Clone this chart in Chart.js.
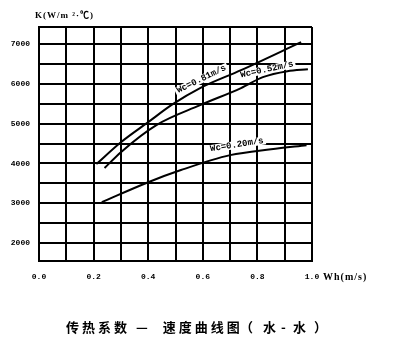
<!DOCTYPE html>
<html lang="zh-cn">
<head>
    <meta charset="UTF-8">
    <title>传热系数 — 速度曲线图</title>
    <script src="https://cdn.jsdelivr.net/npm/chart.js"></script>
    <style>
        body { margin: 0; background: #fff; }
    </style>
</head>
<body>
    <div style="width: 400px; height: 351px;">
        <canvas id="grafico" width="400" height="351"></canvas>
    </div>

    <script>
        // valores (Wh em m/s, K em W/m2.C)
        const wh081 = [0.21, 0.30, 0.40, 0.49, 0.59, 0.74, 0.96]
        const k081  = [3985, 4535, 5040, 5490, 5895, 6345, 7050]

        const wh052 = [0.24, 0.30, 0.43, 0.59, 0.74, 0.82, 0.91, 0.985]
        const k052  = [3885, 4285, 4965, 5465, 5895, 6170, 6320, 6370]

        const wh020 = [0.23, 0.40, 0.52, 0.70, 0.85, 0.98]
        const k020  = [3030, 3530, 3835, 4210, 4360, 4460]

        const series = ["Wc=0.81m/s", "Wc=0.52m/s", "Wc=0.20m/s"]
        const xTicks = [0.0, 0.2, 0.4, 0.6, 0.8, 1.0]
        const yTicks = [2000, 3000, 4000, 5000, 6000, 7000]
        // linhas de grade horizontais (a cada 500) e limites do eixo
        const yGrade = [1550, 2000, 2500, 3000, 3500, 4000, 4500, 5000, 5500, 6000, 6500, 7000, 7430]

        const pares = (xs, ys) => xs.map((x, i) => ({ x: x, y: ys[i] }))

        // rotulos das curvas (posicao em valores do grafico, angulo em graus)
        const rotulos = [
          { texto: series[0], x: 0.595, y: 6120, ang: -26 },
          { texto: series[1], x: 0.835, y: 6360, ang: -12 },
          { texto: series[2], x: 0.725, y: 4470, ang: -9 }
        ]

        // titulo de baixo, em pedacos para acertar o espacamento
        const titulo = [
          ['传热系数 —  速度曲线图', 66],
          ['（', 240], ['水', 263], ['-', 281], ['水', 293], ['）', 314]
        ]

        const textos = {
          id: 'textos',
          beforeDatasetsDraw(chart) {
            const c = chart.ctx
            const sx = chart.scales.x, sy = chart.scales.y
            c.save()
            c.font = 'bold 9px "Liberation Mono", monospace'
            c.textAlign = 'center'
            c.textBaseline = 'middle'
            rotulos.forEach(r => {
              const px = sx.getPixelForValue(r.x)
              const py = sy.getPixelForValue(r.y)
              c.save()
              c.translate(px, py)
              c.rotate(r.ang * Math.PI / 180)
              const w = c.measureText(r.texto).width
              c.fillStyle = '#fff'
              c.fillRect(-w / 2 - 2, -4, w + 4, 8)
              c.fillStyle = '#000'
              c.fillText(r.texto, 0, 0)
              c.restore()
            })
            c.restore()
          },
          afterDraw(chart) {
            const c = chart.ctx
            c.save()
            c.fillStyle = '#000'
            c.textBaseline = 'middle'
            c.textAlign = 'left'
            c.font = 'bold 9px "Liberation Serif", serif'
            c.letterSpacing = '1px'
            c.fillText('K(W/m ²·℃)', 35, 16)
            c.font = 'bold 10px "Liberation Serif", serif'
            c.letterSpacing = '1px'
            c.fillText('Wh(m/s)', 323, 277)
            c.font = 'bold 13px "Noto Sans CJK SC", sans-serif'
            c.letterSpacing = '3px'
            titulo.forEach(t => c.fillText(t[0], t[1], 327))
            c.restore()
          }
        }

        const ctx = document.getElementById('grafico')

        const linha = (rotulo, xs, ys) => ({
          label: rotulo,
          data: pares(xs, ys),
          borderColor: '#000',
          borderWidth: 2,
          pointRadius: 0,
          fill: false,
          cubicInterpolationMode: 'monotone'
        })

        const fonteEixo = { family: '"Liberation Mono", monospace', size: 8, weight: 'bold' }

        const grafico = new Chart(ctx, {
          type: 'line',
          data: {
            datasets: [
              linha(series[0], wh081, k081),
              linha(series[1], wh052, k052),
              linha(series[2], wh020, k020)
            ]
          },
          plugins: [textos],
          options: {
            responsive: false,
            animation: false,
            layout: { padding: { top: 27, right: 88, bottom: 0, left: 0 } },
            plugins: {
              legend: { display: false },
              tooltip: { enabled: false }
            },
            scales: {
              x: {
                type: 'linear',
                min: 0,
                max: 1,
                afterFit: s => { s.height = 90 },
                grid: { color: '#000', lineWidth: 2, drawTicks: false },
                border: { color: '#000', width: 2 },
                ticks: {
                  stepSize: 0.1,
                  autoSkip: false,
                  maxRotation: 0,
                  padding: 11,
                  color: '#000',
                  font: fonteEixo,
                  callback: v => {
                    const t = xTicks.find(a => Math.abs(a - v) < 1e-6)
                    return t === undefined ? '' : t.toFixed(1)
                  }
                }
              },
              y: {
                type: 'linear',
                min: 1550,
                max: 7430,
                afterFit: s => { s.width = 39 },
                afterBuildTicks: s => { s.ticks = yGrade.map(v => ({ value: v })) },
                grid: { color: '#000', lineWidth: 2, drawTicks: false },
                border: { color: '#000', width: 2 },
                ticks: {
                  autoSkip: false,
                  padding: 9,
                  color: '#000',
                  font: fonteEixo,
                  callback: v => yTicks.includes(v) ? String(v) : ''
                }
              }
            }
          }
        })
    </script>
</body>
</html>
